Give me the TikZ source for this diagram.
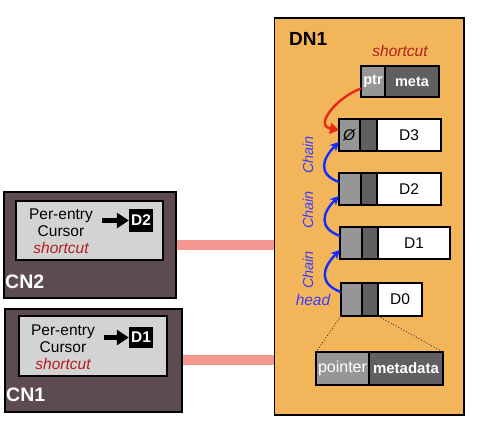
\documentclass[tikz,border=0pt]{standalone}
\usepackage{fontspec}
\setmainfont{Liberation Sans}
\usepackage{tikz}
\usetikzlibrary{positioning,arrows.meta,calc}
\definecolor{dnorange}{RGB}{243,181,89}
\definecolor{cnbrown}{RGB}{93,75,80}
\definecolor{cursorgray}{RGB}{211,211,211}
\definecolor{ptrgray}{RGB}{150,150,150}
\definecolor{metagray}{RGB}{96,96,96}
\definecolor{linkpink}{RGB}{245,150,145}
\definecolor{chainblue}{RGB}{20,45,255}
\definecolor{labelblue}{RGB}{60,60,255}
\definecolor{jumpred}{RGB}{235,40,20}
\definecolor{labelred}{RGB}{180,30,30}

\begin{document}
\begin{tikzpicture}[
    x=1pt, y=1pt,
    font=\fontsize{15.5}{17}\selectfont,
    cell/.style={draw=black, line width=1.2pt, inner sep=0pt, outer sep=0pt, minimum height=32pt},
    pcell/.style={cell, fill=ptrgray, text=white},
    mcell/.style={cell, fill=metagray, text=white},
    dcell/.style={cell, fill=white},
    dnbox/.style={draw=black, line width=1.2pt, fill=dnorange, inner sep=0pt},
    cnbox/.style={draw=black, line width=1.2pt, fill=cnbrown, inner sep=0pt},
    curbox/.style={draw=black, line width=1.2pt, fill=cursorgray, inner sep=0pt},
    tag/.style={fill=black, text=white, font=\fontsize{15.5}{15}\selectfont\bfseries,
        inner sep=0pt, minimum width=24pt},
    cnlbl/.style={text=white, font=\fontsize{19.5}{19}\selectfont\bfseries, anchor=west, inner sep=0pt},
    fatarrow/.style={-{Triangle[length=12pt,width=15pt]}, line width=4.5pt},
    link/.style={draw=linkpink, line width=10pt},
    chain/.style={-{Stealth[length=9pt,width=9pt]}, draw=chainblue, line width=2.4pt},
    jump/.style={-{Triangle[length=9pt,width=11pt]}, draw=jumpred, line width=2.4pt},
    zoomline/.style={dotted, line width=0.9pt, draw=black!80},
    chainlbl/.style={text=labelblue, font=\fontsize{14.5}{15}\selectfont\itshape, rotate=90, inner sep=0pt},
    redlbl/.style={text=labelred, font=\fontsize{15.5}{15}\selectfont\itshape, inner sep=0pt}
]
\useasboundingbox (0,0) rectangle (482,430);

\node[dnbox, minimum width=189.5pt, minimum height=397pt] (dn1) at (369.25,213.5) {};
\node[font=\fontsize{19}{19}\selectfont\bfseries, anchor=west, inner sep=0pt] (dn1lbl) at (289,391) {DN1};

\node[redlbl] (sclbl) at (400,379) {shortcut};
\node[pcell, minimum width=24pt, minimum height=31pt, font=\fontsize{14.5}{15}\selectfont\bfseries] (ptr) at (373,348.5) {ptr};
\node[mcell, minimum width=54pt, minimum height=31pt, font=\fontsize{14.5}{15}\selectfont\bfseries, right=0pt of ptr] (meta) {meta};

\node[pcell, minimum width=21pt, text=black] (d3p) at (349.5,295) {\textit{Ø}};
\node[mcell, minimum width=17pt, right=0pt of d3p] (d3m) {};
\node[dcell, minimum width=64pt, right=0pt of d3m] (d3d) {D3};

\node[pcell, minimum width=22pt] (d2p) at (350,241) {};
\node[mcell, minimum width=16pt, right=0pt of d2p] (d2m) {};
\node[dcell, minimum width=64pt, right=0pt of d2m] (d2d) {D2};

\node[pcell, minimum width=22pt] (d1p) at (351,187) {};
\node[mcell, minimum width=16pt, right=0pt of d1p] (d1m) {};
\node[dcell, minimum width=72pt, right=0pt of d1m] (d1d) {D1};

\node[pcell, minimum width=21pt, minimum height=33pt] (d0p) at (351.5,130.5) {};
\node[mcell, minimum width=16pt, minimum height=33pt, right=0pt of d0p] (d0m) {};
\node[dcell, minimum width=44pt, minimum height=33pt, right=0pt of d0m] (d0d) {D0};

\node[pcell, minimum width=53pt, minimum height=33pt, font=\fontsize{16}{16}\selectfont] (pt) at (342.5,61.5) {pointer};
\node[mcell, minimum width=74pt, minimum height=33pt, font=\fontsize{15}{15}\selectfont\bfseries, right=0pt of pt] (md) {metadata};

\draw[zoomline] (d0p.south west) -- (pt.north west);
\draw[zoomline] (d0m.south east) -- (md.north east);

\draw[chain] ([yshift=-9pt]d0p.north west) to[out=160, in=225, looseness=1.5] ([yshift=9pt]d1p.south west);
\draw[chain] ([yshift=-9pt]d1p.north west) to[out=160, in=225, looseness=1.5] ([yshift=9pt]d2p.south west);
\draw[chain] ([yshift=-9pt]d2p.north west) to[out=160, in=225, looseness=1.5] ([yshift=9pt]d3p.south west);
\draw[jump] ([yshift=-7pt]ptr.west) to[out=200, in=170, looseness=1.4] ([yshift=5pt]d3p.west);

\node[chainlbl] (chain3) at (308,275) {Chain};
\node[chainlbl] (chain2) at (308,220) {Chain};
\node[chainlbl] (chain1) at (308,160) {Chain};
\node[text=labelblue, font=\fontsize{15.5}{15}\selectfont\itshape, inner sep=0pt] (headlbl) at (313,130) {head};

\node[cnbox, minimum width=172pt, minimum height=106pt] (cn2) at (90,185) {};
\node[curbox, minimum width=147pt, minimum height=59pt] (cur2) at (89.5,199.5) {};
\node[align=center, inner sep=2pt] (txt2) at (61,199) {Per-entry\\Cursor\\\textcolor{labelred}{\itshape shortcut}};
\node[tag, minimum height=23pt] (tag2) at (141,209.5) {D2};
\draw[fatarrow, shorten <=7pt] (txt2.east |- tag2.west) -- (tag2.west);
\node[cnlbl] (cn2lbl) at (5,148) {CN2};

\node[cnbox, minimum width=177pt, minimum height=103pt] (cn1) at (93.5,69.5) {};
\node[curbox, minimum width=148pt, minimum height=60pt] (cur1) at (93,84) {};
\node[align=center, inner sep=2pt] (txt1) at (63,83) {Per-entry\\Cursor\\\textcolor{labelred}{\itshape shortcut}};
\node[tag, minimum height=21pt] (tag1) at (141,92.5) {D1};
\draw[fatarrow, shorten <=7pt] (txt1.east |- tag1.west) -- (tag1.west);
\node[cnlbl] (cn1lbl) at (6,35) {CN1};

\draw[link] (cn2.east) -- (cn2.east -| dn1.west);
\draw[link] (cn1.east) -- (cn1.east -| dn1.west);
\end{tikzpicture}
\end{document}
